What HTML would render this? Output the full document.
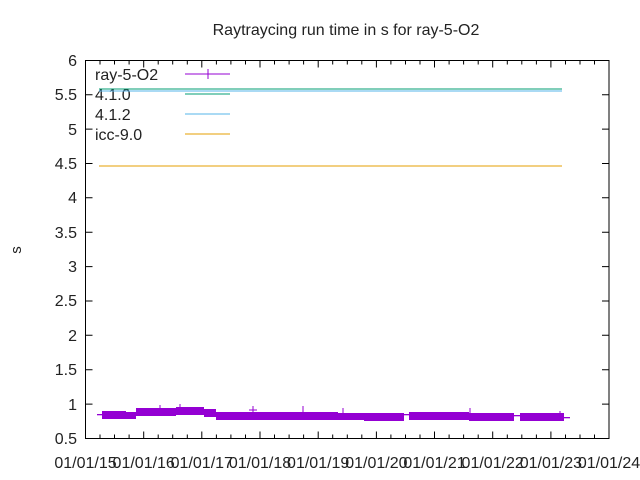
<!DOCTYPE html>
<html><head><meta charset="utf-8"><style>body{margin:0;background:#fff}svg{display:block}text{font-family:"Liberation Sans","DejaVu Sans",sans-serif;fill:#222}</style></head><body>
<svg width="640" height="480" viewBox="0 0 640 480" xmlns="http://www.w3.org/2000/svg">
<rect width="640" height="480" fill="#fff"/>
<text x="346" y="35" font-size="16" text-anchor="middle">Raytraycing run time in s for ray-5-O2</text>
<text x="21" y="250" font-size="15" text-anchor="middle" transform="rotate(-90 21 250)">s</text>
<g stroke="#000" stroke-width="1" fill="none">
<rect x="85.5" y="60.5" width="523.5" height="378"/>
<path d="M85.5 438.5h7M609 438.5h-7M85.5 404.1h7M609 404.1h-7M85.5 369.7h7M609 369.7h-7M85.5 335.3h7M609 335.3h-7M85.5 301h7M609 301h-7M85.5 266.6h7M609 266.6h-7M85.5 232.2h7M609 232.2h-7M85.5 197.8h7M609 197.8h-7M85.5 163.5h7M609 163.5h-7M85.5 129.1h7M609 129.1h-7M85.5 94.7h7M609 94.7h-7M85.5 60.5h7M609 60.5h-7"/>
<path d="M143.7 438.5v-7M201.8 438.5v-7M260 438.5v-7M318.2 438.5v-7M376.4 438.5v-7M434.5 438.5v-7M492.7 438.5v-7M550.9 438.5v-7M143.7 60.5v7M201.8 60.5v7M260 60.5v7M318.2 60.5v7M376.4 60.5v7M434.5 60.5v7M492.7 60.5v7M550.9 60.5v7"/>
<path d="M100 438.5v-4M114.5 438.5v-4M129.1 438.5v-4M158.2 438.5v-4M172.7 438.5v-4M187.3 438.5v-4M216.4 438.5v-4M230.9 438.5v-4M245.5 438.5v-4M274.5 438.5v-4M289.1 438.5v-4M303.6 438.5v-4M332.7 438.5v-4M347.3 438.5v-4M361.8 438.5v-4M390.9 438.5v-4M405.5 438.5v-4M420 438.5v-4M449.1 438.5v-4M463.6 438.5v-4M478.2 438.5v-4M507.3 438.5v-4M521.8 438.5v-4M536.4 438.5v-4M565.5 438.5v-4M580 438.5v-4M594.5 438.5v-4"/>
<path d="M100 60.5v4M114.5 60.5v4M129.1 60.5v4M158.2 60.5v4M172.7 60.5v4M187.3 60.5v4M216.4 60.5v4M230.9 60.5v4M245.5 60.5v4M274.5 60.5v4M289.1 60.5v4M303.6 60.5v4M332.7 60.5v4M347.3 60.5v4M361.8 60.5v4M390.9 60.5v4M405.5 60.5v4M420 60.5v4M449.1 60.5v4M463.6 60.5v4M478.2 60.5v4M507.3 60.5v4M521.8 60.5v4M536.4 60.5v4M565.5 60.5v4M580 60.5v4M594.5 60.5v4"/>
</g>
<g font-size="16" text-anchor="end">
<text x="77" y="444">0.5</text><text x="77" y="410">1</text><text x="77" y="375">1.5</text><text x="77" y="341">2</text><text x="77" y="306">2.5</text><text x="77" y="272">3</text><text x="77" y="238">3.5</text><text x="77" y="203">4</text><text x="77" y="169">4.5</text><text x="77" y="135">5</text><text x="77" y="100">5.5</text><text x="77" y="66">6</text>
</g>
<g font-size="16" text-anchor="middle">
<text x="85.5" y="468">01/01/15</text><text x="143.7" y="468">01/01/16</text><text x="201.8" y="468">01/01/17</text><text x="260" y="468">01/01/18</text><text x="318.2" y="468">01/01/19</text><text x="376.4" y="468">01/01/20</text><text x="434.5" y="468">01/01/21</text><text x="492.7" y="468">01/01/22</text><text x="550.9" y="468">01/01/23</text><text x="609" y="468">01/01/24</text>
</g>
<g font-size="16">
<text x="95" y="80">ray-5-O2</text><text x="95" y="100">4.1.0</text><text x="95" y="120">4.1.2</text><text x="95" y="140">icc-9.0</text>
</g>
<g stroke-width="1" fill="none">
<path d="M185 74h45M208 69v10" stroke="#9400d3"/>
<path d="M185 94h45M99 89h463" stroke="#009e73"/>
<path d="M185 114h45M99 91h463" stroke="#56b4e9"/>
<path d="M185 134h45M99 166h463" stroke="#e69f00"/>
</g>
<g fill="#9400d3">
<rect x="97" y="414" width="6" height="1.3"/>
<rect x="102" y="411" width="24" height="8"/>
<rect x="126" y="412" width="10" height="7"/>
<rect x="136" y="408" width="40" height="8"/>
<rect x="176" y="407" width="28" height="8"/>
<rect x="204" y="409" width="12" height="8"/>
<rect x="216" y="412" width="122" height="8"/>
<rect x="338" y="413" width="26" height="7"/>
<rect x="364" y="413" width="40" height="8"/>
<rect x="404" y="414" width="5" height="1.3"/>
<rect x="409" y="412" width="60" height="8"/>
<rect x="469" y="413" width="45" height="8"/>
<rect x="520" y="413" width="44" height="8"/>
<rect x="514" y="415" width="6" height="1.3"/>
<rect x="564" y="417" width="6" height="1.3"/>
</g>
<g stroke="#9400d3" stroke-width="1" fill="none">
<path d="M249 410h8M253 406v8M160 405v6M180 404v6M303 406v6M343 408v6M470 408v6M560 411v6"/>
</g>
</svg>
</body></html>
